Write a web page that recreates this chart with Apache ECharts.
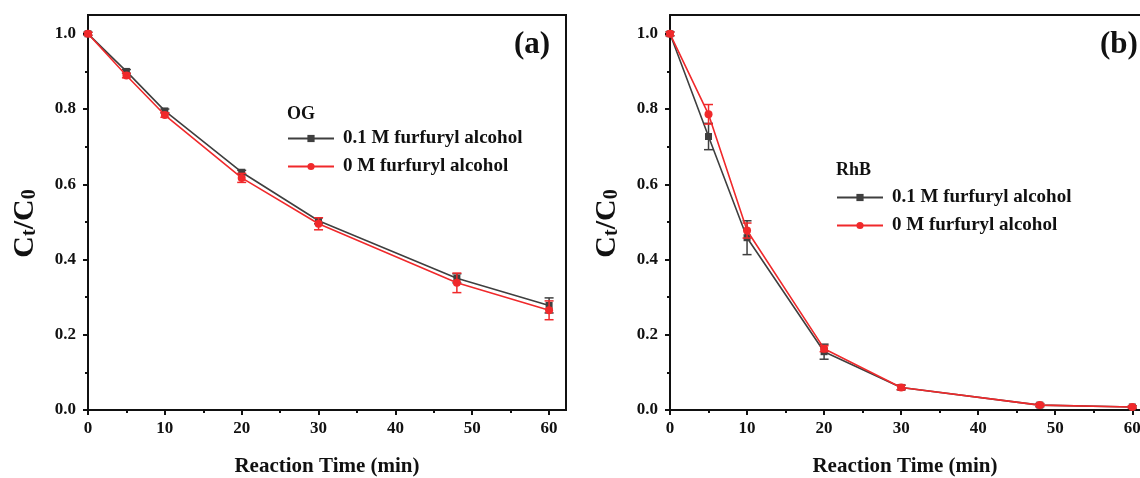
<!DOCTYPE html>
<html>
<head>
<meta charset="utf-8">
<script src="https://cdn.jsdelivr.net/npm/echarts@6/dist/echarts.min.js"></script>
<style>
  html, body { margin: 0; padding: 0; background: #fff; }
  #chart { width: 1140px; height: 478px; }
</style>
</head>
<body>
<div id="chart"></div>
<script>
// Sampling times (min)
const times = [0, 5, 10, 20, 30, 48, 60];

// Orange G (OG): Ct/C0 with and without furfuryl alcohol, with error bars
const ogWithFA    = [1.000, 0.900, 0.795, 0.632, 0.503, 0.350, 0.278];
const ogWithFAErr = [0.004, 0.005, 0.005, 0.005, 0.008, 0.012, 0.020];
const ogNoFA      = [1.000, 0.889, 0.784, 0.617, 0.495, 0.338, 0.265];
const ogNoFAErr   = [0.004, 0.006, 0.006, 0.012, 0.016, 0.026, 0.025];

// Rhodamine B (RhB)
const rhbWithFA    = [1.000, 0.727, 0.458, 0.155, 0.060, 0.013, 0.008];
const rhbWithFAErr = [0.005, 0.035, 0.045, 0.020, 0.006, 0.004, 0.003];
const rhbNoFA      = [1.000, 0.786, 0.477, 0.163, 0.060, 0.013, 0.008];
const rhbNoFAErr   = [0.005, 0.026, 0.020, 0.008, 0.006, 0.004, 0.003];

// Tick positions
const xTicks = [0, 10, 20, 30, 40, 50, 60];
const xMinorTicks = [5, 15, 25, 35, 45, 55];
const yTicks = [0, 0.2, 0.4, 0.6, 0.8, 1.0];
const yMinorTicks = [0.1, 0.3, 0.5, 0.7, 0.9];

// Text
const seriesNames = ['0.1 M furfuryl alcohol', '0 M furfuryl alcohol'];
const dyeNames = ['OG', 'RhB'];
const panelLabels = ['(a)', '(b)'];
const xTitle = 'Reaction Time (min)';

const FONT = '"Liberation Serif", "Times New Roman", serif';
const INK = '#111';
const GRAY = '#3f3f3f';
const RED = '#f0292b';

const panelData = [
  { withFA: ogWithFA, withErr: ogWithFAErr, noFA: ogNoFA, noErr: ogNoFAErr },
  { withFA: rhbWithFA, withErr: rhbWithFAErr, noFA: rhbNoFA, noErr: rhbNoFAErr }
];

// Panel frames: panel (b) runs past the right edge of the page, so its frame is open on the right
const panelLeft = [88, 670];
const panelWidth = [478, 470];
const panelXMax = [62.2, 61.0];
const panelClosed = [true, false];
const plotTop = 15, plotH = 395;
const Y_MAX = 1.05;

const pairs = (xs, ys) => xs.map((x, i) => [x, ys[i]]);
const errRows = (xs, ys, es) => xs.map((x, i) => [x, ys[i] - es[i], ys[i] + es[i]]);

function errorBarRender(color) {
  return function (params, api) {
    const x = api.value(0);
    const lo = api.coord([x, api.value(1)]);
    const hi = api.coord([x, api.value(2)]);
    const w = 4.5;
    const style = { stroke: color, lineWidth: 1.5 };
    return {
      type: 'group',
      children: [
        { type: 'line', shape: { x1: lo[0], y1: lo[1], x2: hi[0], y2: hi[1] }, style },
        { type: 'line', shape: { x1: lo[0] - w, y1: lo[1], x2: lo[0] + w, y2: lo[1] }, style },
        { type: 'line', shape: { x1: hi[0] - w, y1: hi[1], x2: hi[0] + w, y2: hi[1] }, style }
      ]
    };
  };
}

const grid = [], xAxis = [], yAxis = [], series = [], legend = [], title = [];
const labelFont = { color: INK, fontFamily: FONT, fontWeight: 'bold', fontSize: 17 };
const axisLineStyle = { color: INK, width: 2 };
const hiddenAxis = (gridIndex, max) => ({
  gridIndex, type: 'value', min: 0, max, show: true,
  axisLine: { show: false }, axisTick: { show: false }, axisLabel: { show: false }, splitLine: { show: false }
});

panelData.forEach((pd, p) => {
  const box = { left: panelLeft[p], top: plotTop, width: panelWidth[p], height: plotH, outerBoundsMode: 'none', containLabel: false };
  const gMain = grid.length;
  grid.push(Object.assign({ show: panelClosed[p], borderColor: INK, borderWidth: 2, backgroundColor: 'transparent' }, box));
  const gMinor = grid.length;
  grid.push(Object.assign({ show: false }, box));

  xAxis.push({
    gridIndex: gMain, type: 'value', min: 0, max: panelXMax[p],
    axisLine: { show: true, lineStyle: axisLineStyle },
    axisTick: { show: true, customValues: xTicks, length: 5, lineStyle: axisLineStyle },
    axisLabel: Object.assign({ customValues: xTicks, margin: 10 }, labelFont),
    splitLine: { show: false },
    name: xTitle, nameLocation: 'middle', nameGap: 46,
    nameTextStyle: { color: INK, fontFamily: FONT, fontWeight: 'bold', fontSize: 21 }
  });
  xAxis.push({
    gridIndex: gMinor, type: 'value', min: 0, max: panelXMax[p],
    axisLine: { show: false },
    axisTick: { show: true, customValues: xMinorTicks, length: 3, lineStyle: axisLineStyle },
    axisLabel: { show: false }, splitLine: { show: false }
  });

  yAxis.push({
    gridIndex: gMain, type: 'value', min: 0, max: Y_MAX,
    axisLine: { show: true, lineStyle: axisLineStyle },
    axisTick: { show: true, customValues: yTicks, length: 5, lineStyle: axisLineStyle },
    axisLabel: Object.assign({ customValues: yTicks, margin: 12, formatter: v => v.toFixed(1) }, labelFont),
    splitLine: { show: false },
    name: '{c|C}{s|t}{c|/C}{s|0}', nameLocation: 'middle', nameGap: 48,
    nameTextStyle: {
      color: INK, fontFamily: FONT, fontWeight: 'bold', padding: [0, 22, 0, 0],
      rich: {
        c: { fontFamily: FONT, fontWeight: 'bold', fontSize: 30, color: INK, lineHeight: 32, verticalAlign: 'bottom' },
        s: { fontFamily: FONT, fontWeight: 'bold', fontSize: 20, color: INK, lineHeight: 16, verticalAlign: 'bottom' }
      }
    }
  });
  yAxis.push({
    gridIndex: gMinor, type: 'value', min: 0, max: Y_MAX,
    axisLine: { show: false },
    axisTick: { show: true, customValues: yMinorTicks, length: 3, lineStyle: axisLineStyle },
    axisLabel: { show: false }, splitLine: { show: false }
  });

  // Open frame: only the top edge is drawn
  if (!panelClosed[p]) {
    const gTop = grid.length;
    grid.push(Object.assign({ show: false }, box));
    xAxis.push(Object.assign(hiddenAxis(gTop, panelXMax[p]), {
      position: 'top', axisLine: { show: true, onZero: false, lineStyle: axisLineStyle }
    }));
    yAxis.push(hiddenAxis(gTop, Y_MAX));
  }

  series.push({
    type: 'line', name: seriesNames[0], xAxisIndex: gMain, yAxisIndex: gMain,
    data: pairs(times, pd.withFA), symbol: 'rect', symbolSize: 7,
    itemStyle: { color: GRAY }, lineStyle: { color: GRAY, width: 1.6 }, z: 3
  });
  series.push({
    type: 'custom', xAxisIndex: gMain, yAxisIndex: gMain,
    data: errRows(times, pd.withFA, pd.withErr), renderItem: errorBarRender(GRAY),
    encode: { x: 0, y: [1, 2] }, z: 4, silent: true
  });
  series.push({
    type: 'line', name: seriesNames[1], xAxisIndex: gMain, yAxisIndex: gMain,
    data: pairs(times, pd.noFA), symbol: 'circle', symbolSize: 8,
    itemStyle: { color: RED }, lineStyle: { color: RED, width: 1.6 }, z: 5
  });
  series.push({
    type: 'custom', xAxisIndex: gMain, yAxisIndex: gMain,
    data: errRows(times, pd.noFA, pd.noErr), renderItem: errorBarRender(RED),
    encode: { x: 0, y: [1, 2] }, z: 6, silent: true
  });
});

// Legends and panel captions
const legendPos = [{ left: 287, top: 129 }, { left: 836, top: 188 }];
const dyePos = [{ left: 287, top: 105 }, { left: 836, top: 161 }];
const capPos = [{ left: 514, top: 29 }, { left: 1100, top: 29 }];

legendPos.forEach((pos, p) => {
  legend.push({
    left: pos.left, top: pos.top, orient: 'vertical', data: seriesNames, padding: 0,
    itemWidth: 46, itemHeight: 9, itemGap: 9, selectedMode: false,
    textStyle: { color: INK, fontFamily: FONT, fontWeight: 'bold', fontSize: 19, padding: [0, 0, 0, 4] }
  });
  title.push({ text: dyeNames[p], left: dyePos[p].left, top: dyePos[p].top, padding: 0,
               textStyle: { color: INK, fontFamily: FONT, fontWeight: 'bold', fontSize: 18 } });
  title.push({ text: panelLabels[p], left: capPos[p].left, top: capPos[p].top, padding: 0,
               textStyle: { color: INK, fontFamily: FONT, fontWeight: 'bold', fontSize: 31 } });
});

const chart = echarts.init(document.getElementById('chart'), null, { renderer: 'canvas' });
chart.setOption({
  animation: false,
  backgroundColor: '#fff',
  title, legend, grid, xAxis, yAxis, series
});
</script>
</body>
</html>
